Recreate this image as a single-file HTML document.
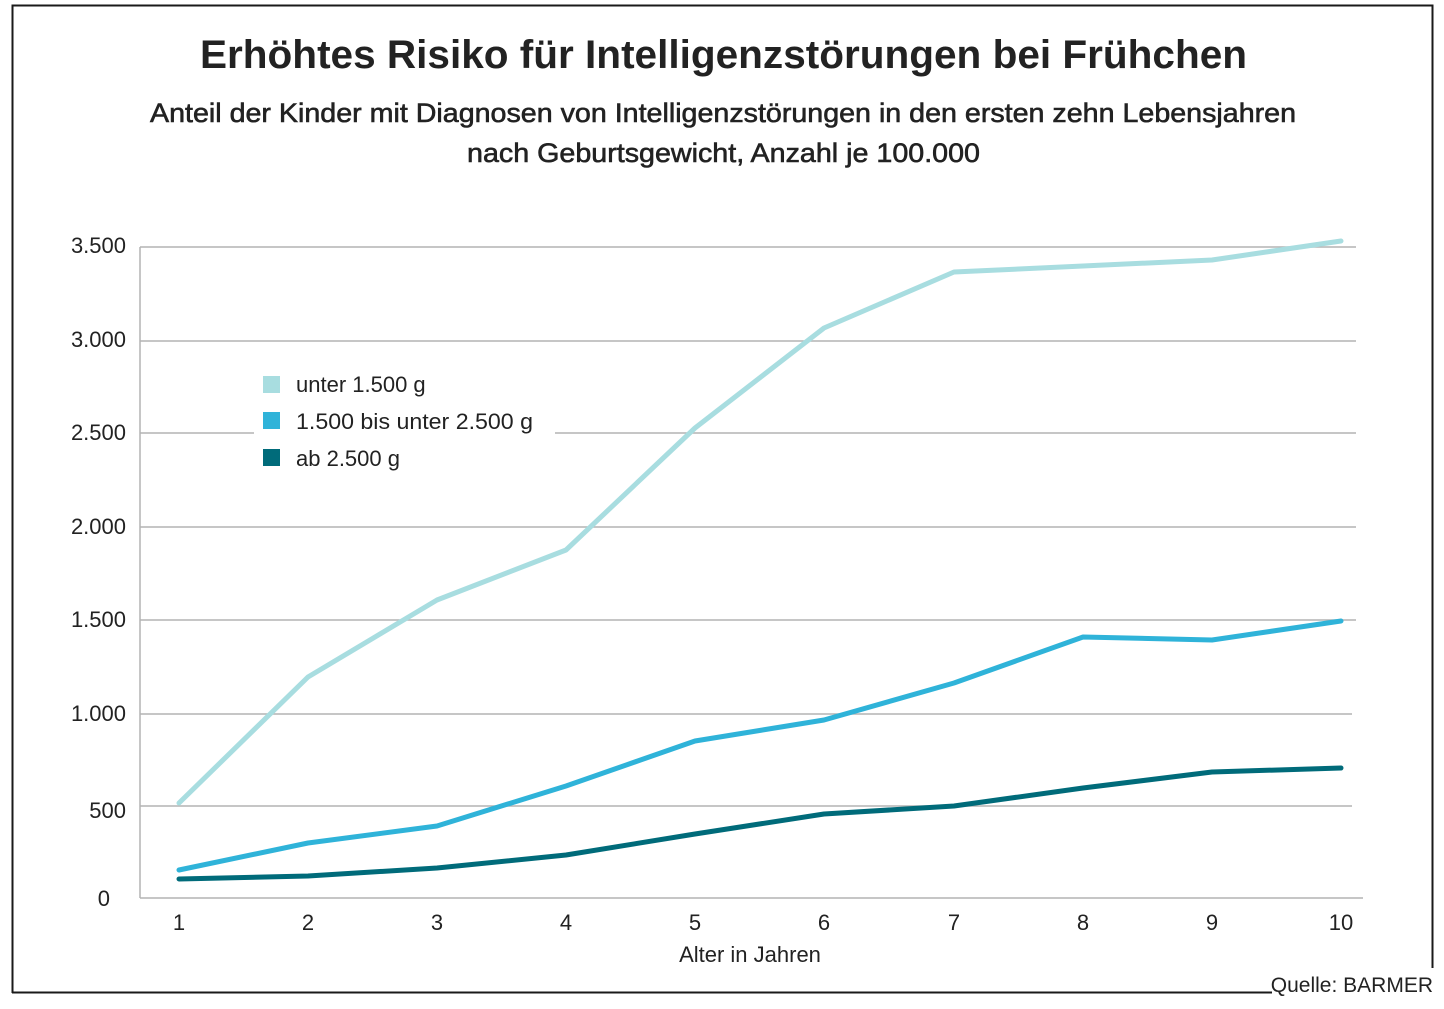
<!DOCTYPE html><html><head><meta charset="utf-8"><style>
body{margin:0;background:#fff;width:1444px;height:1004px;overflow:hidden;font-family:"Liberation Sans",sans-serif}
</style></head><body>
<svg width="1444" height="1004" xmlns="http://www.w3.org/2000/svg" font-family="Liberation Sans, sans-serif">
<rect width="1444" height="1004" fill="#fff"/>
<path d="M12.5,993 L12.5,5.5 L1432.5,5.5 L1432.5,968" fill="none" stroke="#1a1a1a" stroke-width="2"/>
<line x1="12" y1="992.5" x2="1272" y2="992.5" stroke="#1a1a1a" stroke-width="2"/>
<text x="1433" y="992" text-anchor="end" font-size="21" fill="#222">Quelle: BARMER</text>
<text x="200" y="68" font-size="40" font-weight="bold" fill="#222" textLength="1047" lengthAdjust="spacingAndGlyphs">Erhöhtes Risiko für Intelligenzstörungen bei Frühchen</text>
<text x="150" y="122" font-size="27" fill="#222" stroke="#222" stroke-width="0.6" textLength="1146" lengthAdjust="spacingAndGlyphs">Anteil der Kinder mit Diagnosen von Intelligenzstörungen in den ersten zehn Lebensjahren</text>
<text x="467" y="162" font-size="27" fill="#222" stroke="#222" stroke-width="0.6" textLength="513" lengthAdjust="spacingAndGlyphs">nach Geburtsgewicht, Anzahl je 100.000</text>
<g stroke="#b3b3b3" stroke-width="1.5">
<line x1="140" y1="247" x2="1356" y2="247"/>
<line x1="140" y1="341" x2="1356" y2="341"/>
<line x1="140" y1="433" x2="254" y2="433"/><line x1="555" y1="433" x2="1356" y2="433"/>
<line x1="140" y1="527" x2="1356" y2="527"/>
<line x1="140" y1="620" x2="1356" y2="620"/>
<line x1="140" y1="714" x2="1352" y2="714"/>
<line x1="140" y1="806" x2="1352" y2="806"/>
<line x1="140" y1="247" x2="140" y2="898"/>
<line x1="140" y1="898" x2="1363" y2="898"/>
</g>
<g font-size="22" fill="#222" text-anchor="end">
<text x="126" y="253">3.500</text><text x="126" y="347">3.000</text><text x="126" y="440">2.500</text>
<text x="126" y="534">2.000</text><text x="126" y="627">1.500</text><text x="126" y="721">1.000</text>
<text x="126" y="818">500</text><text x="110" y="906">0</text>
</g>
<g font-size="22" fill="#222" text-anchor="middle">
<text x="179" y="930">1</text><text x="308" y="930">2</text><text x="437" y="930">3</text><text x="566" y="930">4</text>
<text x="695" y="930">5</text><text x="824" y="930">6</text><text x="954" y="930">7</text><text x="1083" y="930">8</text>
<text x="1212" y="930">9</text><text x="1341" y="930">10</text>
<text x="750" y="962">Alter in Jahren</text>
</g>
<g fill="none" stroke-width="5" stroke-linecap="round" stroke-linejoin="round">
<polyline stroke="#a8dde0" points="179,803 308,677 437,600 566,550 695,428 824,328 954,272 1083,266 1212,260 1341,241"/>
<polyline stroke="#2fb3d9" points="179,870 308,843 437,826 566,786 695,741 824,720 954,683 1083,637 1212,640 1341,621"/>
<polyline stroke="#006b7a" points="179,879 308,876 437,868 566,855 695,834 824,814 954,806 1083,788 1212,772 1341,768"/>
</g>
<rect x="263" y="376" width="17" height="17" fill="#a8dde0"/>
<rect x="263" y="412" width="17" height="17" fill="#2fb3d9"/>
<rect x="263" y="449" width="17" height="17" fill="#006b7a"/>
<g font-size="22" fill="#222">
<text x="296" y="392">unter 1.500 g</text>
<text x="296" y="429" textLength="237" lengthAdjust="spacingAndGlyphs">1.500 bis unter 2.500 g</text>
<text x="296" y="466">ab 2.500 g</text>
</g>
</svg>
</body></html>
